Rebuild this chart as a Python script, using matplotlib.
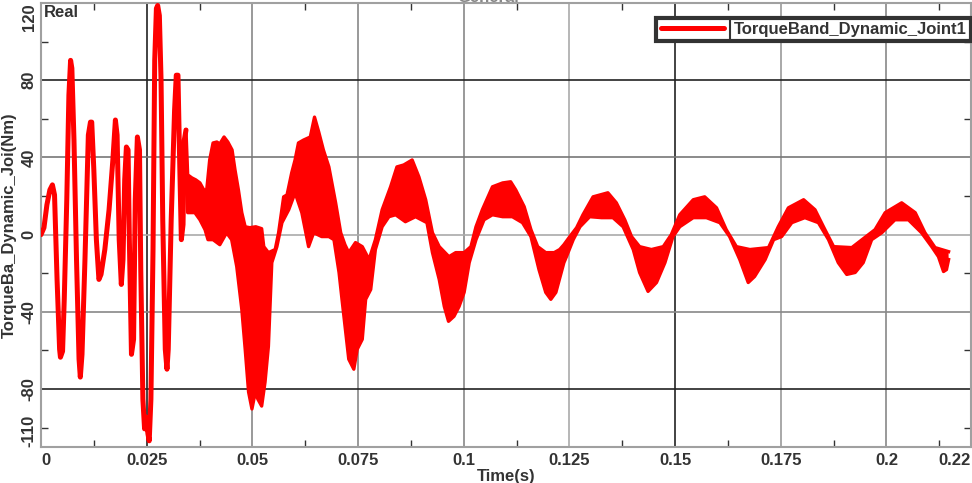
import numpy as np
import matplotlib
matplotlib.use("Agg")
import matplotlib.pyplot as plt
from matplotlib.lines import Line2D

plt.rcParams['font.family'] = ['Liberation Sans', 'DejaVu Sans']
plt.rcParams['font.weight'] = 'bold'
plt.rcParams['font.size'] = 12

# start-up transient, a single clean trace (time s, torque Nm)
t_start = [0.0000, 0.0007, 0.0014, 0.0021, 0.0027, 0.0032, 0.0038, 0.0044, 0.0046, 0.0051,
           0.0055, 0.0061, 0.0066, 0.0070, 0.0073, 0.0078, 0.0084, 0.0090, 0.0093, 0.0097,
           0.0104, 0.0112, 0.0117, 0.0120, 0.0125, 0.0131, 0.0137, 0.0142, 0.0151, 0.0161,
           0.0170, 0.0176, 0.0180, 0.0185, 0.0190, 0.0194, 0.0198, 0.0202, 0.0206, 0.0209,
           0.0214, 0.0219, 0.0223, 0.0228, 0.0233, 0.0236, 0.0241, 0.0245, 0.0248, 0.0253,
           0.0256, 0.0260, 0.0265, 0.0269, 0.0273, 0.0276, 0.0280, 0.0284, 0.0288, 0.0294,
           0.0298, 0.0301, 0.0308, 0.0316, 0.0320, 0.0324, 0.0327, 0.0332, 0.0336, 0.0339,
           0.0343]
v_start = [0.0, 3.6, 15.5, 23.2, 25.8, 20.6, -23.2, -59.4, -63.5, -60.4,
           -33.5, 18.1, 72.3, 90.3, 86.2, 49.0, -12.9, -64.5, -73.8, -62.0,
           -12.9, 51.6, 58.3, 58.3, 33.5, -2.6, -23.2, -20.6, -7.7, 12.9,
           38.7, 59.4, 51.6, -2.6, -25.8, -12.9, 28.4, 45.4, 43.9, -2.6,
           -62.0, -54.2, 18.1, 50.6, 43.9, -18.1, -85.2, -100.6, -94.4, -103.2,
           -106.8, -85.2, -7.7, 90.3, 117.2, 118.7, 113.5, 80.0, 7.7, -59.4,
           -69.7, -59.4, 7.7, 64.5, 82.6, 82.6, 49.0, -2.6, 5.2, 49.0,
           54.2]

# noisy part: upper edge of the band
t_upper = [0.0343, 0.0347, 0.0357, 0.0366, 0.0376, 0.0385, 0.0392, 0.0399, 0.0407, 0.0416,
           0.0423, 0.0433, 0.0442, 0.0452, 0.0459, 0.0467, 0.0475, 0.0483, 0.0494, 0.0508,
           0.0522, 0.0527, 0.0538, 0.0554, 0.0562, 0.0574, 0.0582, 0.0593, 0.0601, 0.0609,
           0.0621, 0.0637, 0.0647, 0.0657, 0.0668, 0.0681, 0.0697, 0.0709, 0.0719, 0.0728,
           0.0744, 0.0760, 0.0776, 0.0791, 0.0807, 0.0827, 0.0842, 0.0858, 0.0878, 0.0894,
           0.0910, 0.0926, 0.0942, 0.0965, 0.0981, 0.1001, 0.1017, 0.1029, 0.1044, 0.1068,
           0.1092, 0.1111, 0.1123, 0.1143, 0.1159, 0.1175, 0.1194, 0.1214, 0.1227, 0.1237,
           0.1251, 0.1267, 0.1282, 0.1306, 0.1341, 0.1361, 0.1381, 0.1397, 0.1416, 0.1444,
           0.1472, 0.1491, 0.1511, 0.1543, 0.1570, 0.1598, 0.1621, 0.1645, 0.1677, 0.1721,
           0.1744, 0.1768, 0.1804, 0.1831, 0.1851, 0.1875, 0.1918, 0.1973, 0.1997, 0.2036,
           0.2068, 0.2091, 0.2115, 0.2147]
v_upper = [54.2, 31.0, 29.4, 28.4, 26.8, 23.2, 23.2, 38.7, 47.5, 48.0,
           47.0, 50.6, 48.0, 43.9, 33.5, 23.2, 11.4, 4.1, 3.6, 4.1,
           3.1, -6.2, -9.3, -7.7, 1.0, 19.6, 20.6, 32.0, 38.7, 47.5,
           49.0, 50.6, 60.9, 53.2, 43.9, 35.1, 16.5, 1.0, -5.2, -9.3,
           -4.1, -6.2, -12.9, -2.6, 12.9, 24.8, 35.1, 36.1, 38.7, 29.9,
           18.1, 1.0, -6.2, -11.4, -9.3, -9.3, -6.2, 4.1, 12.9, 24.8,
           26.8, 27.4, 23.2, 14.5, 2.6, -6.2, -9.3, -9.3, -7.7, -5.2,
           -1.0, 3.6, 10.3, 19.6, 21.7, 16.5, 7.7, -1.0, -6.2, -7.7,
           -6.2, 0.0, 10.3, 18.1, 19.6, 13.9, 2.6, -6.2, -7.7, -6.7,
           4.1, 13.9, 18.1, 12.9, 4.1, -6.2, -6.7, 2.6, 11.4, 16.5,
           11.4, 1.0, -6.7, -8.8]

# noisy part: lower edge of the band
t_lower = [0.0343, 0.0347, 0.0364, 0.0376, 0.0388, 0.0395, 0.0407, 0.0423, 0.0439, 0.0451,
           0.0463, 0.0475, 0.0483, 0.0491, 0.0499, 0.0507, 0.0513, 0.0522, 0.0530, 0.0538,
           0.0546, 0.0558, 0.0570, 0.0586, 0.0601, 0.0617, 0.0633, 0.0645, 0.0664, 0.0681,
           0.0693, 0.0705, 0.0712, 0.0720, 0.0728, 0.0740, 0.0748, 0.0760, 0.0768, 0.0780,
           0.0791, 0.0807, 0.0823, 0.0839, 0.0862, 0.0886, 0.0913, 0.0926, 0.0942, 0.0954,
           0.0964, 0.0977, 0.0989, 0.1001, 0.1013, 0.1029, 0.1048, 0.1068, 0.1092, 0.1115,
           0.1139, 0.1159, 0.1178, 0.1194, 0.1206, 0.1218, 0.1237, 0.1243, 0.1259, 0.1275,
           0.1298, 0.1326, 0.1353, 0.1377, 0.1401, 0.1416, 0.1436, 0.1456, 0.1476, 0.1495,
           0.1511, 0.1543, 0.1574, 0.1606, 0.1629, 0.1653, 0.1673, 0.1688, 0.1713, 0.1733,
           0.1752, 0.1776, 0.1807, 0.1839, 0.1863, 0.1886, 0.1906, 0.1926, 0.1945, 0.1965,
           0.1989, 0.2020, 0.2052, 0.2083, 0.2107, 0.2123, 0.2135, 0.2142, 0.2147]
v_lower = [49.0, 11.4, 11.4, 7.7, 2.6, -2.6, -2.6, -5.2, 1.0, -2.6,
           -16.5, -38.7, -59.4, -81.5, -90.3, -81.5, -85.2, -88.8, -76.4, -57.8,
           -14.5, -6.2, 6.2, 12.9, 21.7, 11.4, -6.2, 1.0, -1.0, -1.0,
           -2.6, -19.6, -33.5, -49.0, -64.5, -69.7, -59.4, -54.2, -33.5, -28.4,
           -7.7, 4.1, 9.3, 10.3, 6.7, 9.3, 6.2, -9.3, -23.2, -37.2,
           -44.9, -42.3, -37.2, -29.9, -14.5, -2.6, 7.7, 10.3, 9.3, 9.3,
           6.2, -1.0, -18.1, -29.9, -33.5, -29.9, -14.5, -11.4, -2.6, 4.1,
           9.3, 8.8, 8.8, 4.1, -7.7, -19.6, -29.4, -24.8, -14.5, -1.0,
           4.1, 8.8, 8.8, 6.2, -1.0, -12.9, -24.8, -21.7, -12.9, -2.6,
           -1.0, 6.2, 8.8, 6.2, -2.6, -14.5, -20.6, -19.6, -14.5, -2.6,
           1.0, 7.7, 7.7, 1.0, -6.2, -11.4, -19.1, -18.1, -12.9]

x_major = [0, 0.025, 0.05, 0.075, 0.1, 0.125, 0.15, 0.175, 0.2, 0.22]
x_labels = ["0", "0.025", "0.05", "0.075", "0.1", "0.125", "0.15", "0.175", "0.2", "0.22"]
y_major = [-110, -80, -40, 0, 40, 80, 120]
y_labels = ["-110", "-80", "-40", "0", "40", "80", "120"]

red = "#ff0000"
dark = "#333333"

fig = plt.figure(figsize=(9.72, 4.83), dpi=100)
ax = fig.add_axes([41 / 972, 1 - 447 / 483, 930 / 972, 444 / 483])

ax.plot(t_start, v_start, color=red, lw=3.6, solid_joinstyle="round",
        solid_capstyle="round", label="TorqueBand_Dynamic_Joint1", zorder=3)

band_t = list(t_upper) + list(t_lower[::-1])
band_v = list(v_upper) + list(v_lower[::-1])
ax.fill(band_t, band_v, color=red, lw=0, zorder=3)
ax.plot(t_upper, v_upper, color=red, lw=2.4, solid_joinstyle="round", zorder=3)
ax.plot(t_lower, v_lower, color=red, lw=2.4, solid_joinstyle="round", zorder=3)

ax.set_xlim(0, 0.22)
ax.set_ylim(-110, 120)

ax.set_xticks(x_major)
ax.set_xticklabels(x_labels, color=dark, fontweight="bold")
ax.set_xticks(np.arange(0.0125, 0.22, 0.025), minor=True)
ax.set_yticks(y_major)
ax.set_yticklabels(y_labels, color=dark, rotation=90, va="center", fontweight="bold")
ax.set_yticks([-100, -60, -20, 20, 60, 100], minor=True)

ax.tick_params(axis="x", which="major", length=0, pad=4)
ax.tick_params(axis="y", which="major", length=0, pad=3)
ax.tick_params(which="minor", direction="in", length=5, width=1, color=dark,
               top=True, right=True)

xl = ax.get_xticklabels()
xl[0].set_ha("left")
xl[-1].set_ha("right")
yl = ax.get_yticklabels()
yl[0].set_va("bottom")
yl[-1].set_va("top")

ax.grid(True, which="major", lw=1.2)
x_grid_colors = ["#999999", "#222222", "#888888", "#888888", "#888888",
                 "#aaaaaa", "#222222", "#999999", "#888888", "#999999"]
for line, c in zip(ax.xaxis.get_gridlines(), x_grid_colors):
    line.set_color(c)
y_grid_colors = ["#999999", "#222222", "#888888", "#aaaaaa", "#777777", "#222222", "#999999"]
for line, c in zip(ax.yaxis.get_gridlines(), y_grid_colors):
    line.set_color(c)

for s in ax.spines.values():
    s.set_color("#a0a0a0")
    s.set_linewidth(1.5)

ax.set_xlabel("Time(s)", color=dark, fontweight="bold")
ax.set_ylabel("TorqueBa_Dynamic_Joi(Nm)", color=dark, fontweight="bold")
ax.xaxis.set_label_coords(0.5, -0.049)
ax.yaxis.set_label_coords(-0.026, 0.5)

ax.text(0.003, 0.995, "Real", transform=ax.transAxes, ha="left", va="top", color=dark)
fig.text(488 / 972, 1 - 2.5 / 483, "General", ha="center", va="baseline", color="#888888")

leg = ax.legend(loc="upper right", bbox_to_anchor=(1.0, 0.966), borderaxespad=0,
                fancybox=False, framealpha=1, edgecolor=dark, handlelength=3.8,
                handletextpad=0.6, borderpad=0.25)
leg.get_frame().set_linewidth(3)
for txt in leg.get_texts():
    txt.set_color(dark)

# vertical divider between legend sample and text
fig.canvas.draw()
renderer = fig.canvas.get_renderer()
frame_bb = leg.get_frame().get_window_extent(renderer)
text_bb = leg.get_texts()[0].get_window_extent(renderer)
W, H = fig.bbox.width, fig.bbox.height
xd = (text_bb.x0 - 4) / W
fig.add_artist(Line2D([xd, xd], [frame_bb.y0 / H, frame_bb.y1 / H],
                      transform=fig.transFigure, color=dark, lw=1.5))

fig.savefig("out.png", dpi=100)
plt.close(fig)
